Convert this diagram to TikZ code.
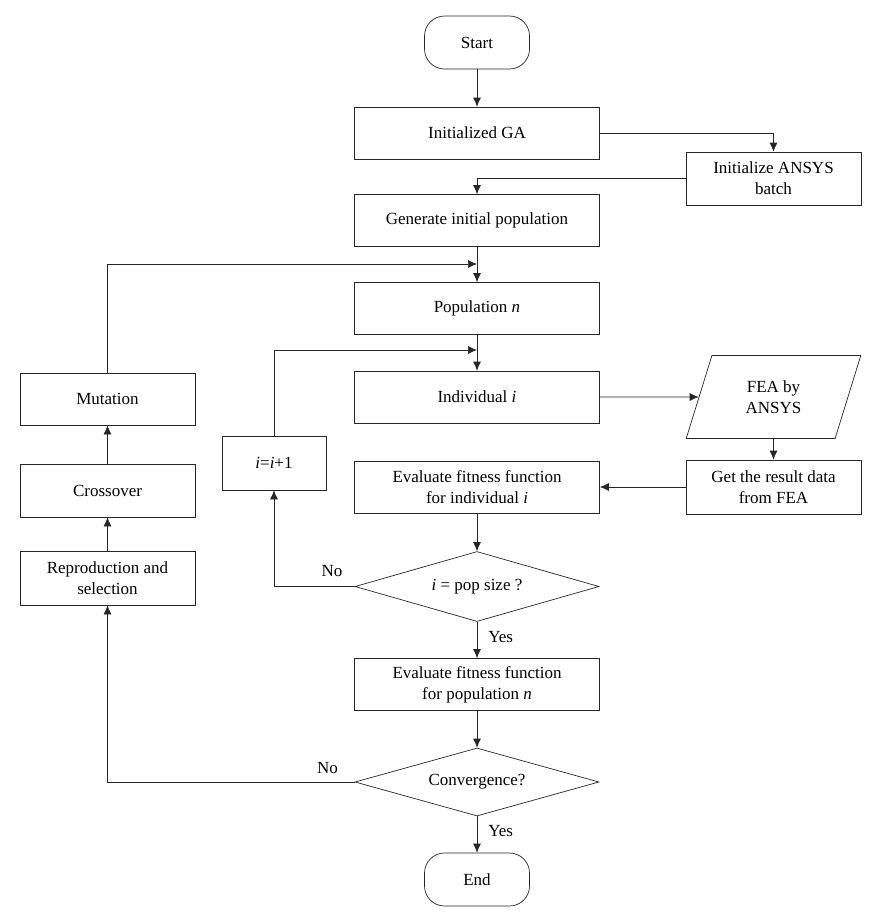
\documentclass[tikz,border=0pt]{standalone}
\usepackage{fontspec}
\setmainfont{Liberation Serif}
\usetikzlibrary{shapes.geometric, arrows.meta}

\begin{document}
\begin{tikzpicture}[x=1pt, y=-1pt, >={Latex[length=9pt, width=8pt]}, line width=0.7pt, draw=black!85]
				\tikzstyle{every node}=[inner sep=1pt, align=center, font=\fontsize{17}{21}\selectfont]
				\tikzstyle{box}=[draw, rectangle, minimum width=245pt, minimum height=52pt]
				\tikzstyle{sidebox}=[draw, rectangle, minimum width=175pt, minimum height=53pt]
				\tikzstyle{term}=[draw, rectangle, rounded corners=20pt, minimum width=105pt, minimum height=53pt]
				\tikzstyle{test}=[draw, diamond, aspect=3.4, minimum width=244pt, minimum height=70pt, inner sep=0pt]
				\tikzstyle{io}=[draw, trapezium, trapezium left angle=71, trapezium right angle=109, trapezium stretches=true, minimum width=175pt, minimum height=83pt]
				\useasboundingbox (0, 0) rectangle (882, 922);
				% main column
				\node [term] (S) at (477, 42.5) {Start};
				\node [box] (GA) at (477, 133) {Initialized GA};
				\node [sidebox] (AB) at (773.5, 178.5) {Initialize ANSYS\\batch};
				\node [box] (GP) at (477, 220.5) {Generate initial population};
				\node [box] (P) at (477, 308.5) {Population \textit{n}};
				\node [box] (I) at (477, 397) {Individual \textit{i}};
				\node [io] (F) at (773.5, 397) {FEA by\\ANSYS};
				\node [sidebox, minimum height=54pt] (R) at (773.5, 487) {Get the result data\\from FEA};
				\node [box] (EI) at (477, 487) {Evaluate fitness function\\for individual \textit{i}};
				\node [test] (D1) at (477, 586.5) {\textit{i} = pop size ?};
				\node [draw, rectangle, minimum width=104pt, minimum height=54pt] (C) at (274, 463) {\textit{i}=\textit{i}+1};
				\node [box] (EP) at (477, 684.5) {Evaluate fitness function\\for population \textit{n}};
				\node [test, minimum height=68pt] (D2) at (477, 782) {Convergence?};
				\node [term] (E) at (477, 879.5) {End};
				% GA operators
				\node [sidebox, minimum height=52pt] (MU) at (107.5, 399) {Mutation};
				\node [sidebox] (CR) at (107.5, 490.5) {Crossover};
				\node [sidebox, minimum height=54pt] (RS) at (107.5, 578) {Reproduction and\\selection};
				\coordinate (J1) at (477, 264);
				\coordinate (J2) at (477, 350);
				% connectors
				\draw [->] (S) -- (GA);
				\draw [->] (GA.east) -| (AB.north);
				\draw [->] (AB.west) -| (GP.north);
				\draw [->] (GP) -- (P);
				\draw [->] (MU.north) |- (J1);
				\draw [->] (P) -- (I);
				\draw [->] (C.north) |- (J2);
				\draw [->] (I.east) -- (F.west);
				\draw [->] (F) -- (R);
				\draw [->] (R.west) -- (EI.east);
				\draw [->] (EI) -- (D1);
				\draw [->] (D1.west) -| (C.south) node[pos=0.14, above=8pt] (N1) {No};
				\draw [->] (D1) -- (EP) node[midway, right=10pt, yshift=3pt] (Y1) {Yes};
				\draw [->] (EP) -- (D2);
				\draw [->] (D2.west) -| (RS.south) node[pos=0.055, above=7pt] (N2) {No};
				\draw [->] (D2) -- (E) node[midway, right=10pt, yshift=3pt] (Y2) {Yes};
				\draw [->] (RS) -- (CR);
				\draw [->] (CR) -- (MU);
		\end{tikzpicture}
\end{document}
